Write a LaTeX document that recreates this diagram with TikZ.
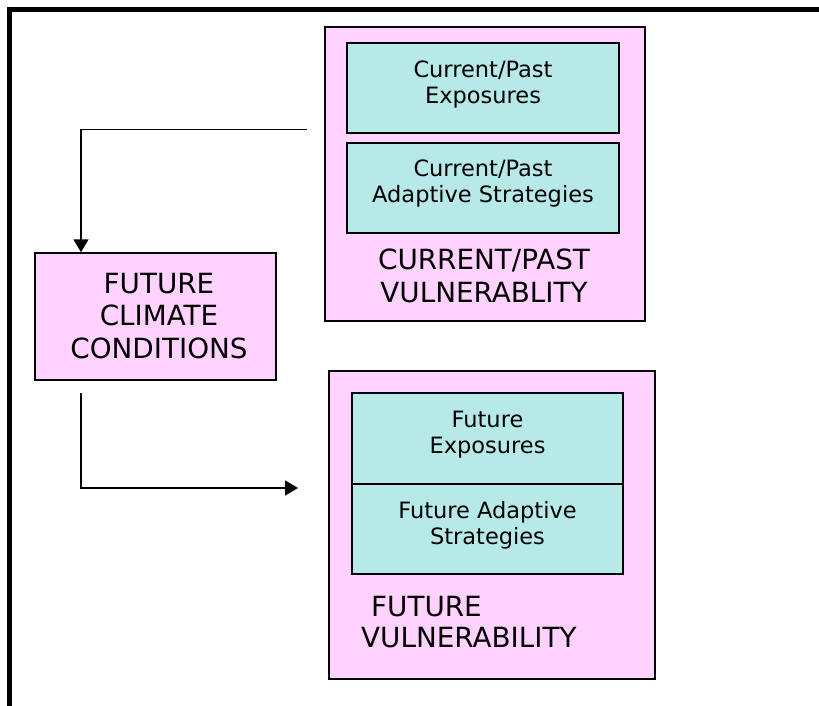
\documentclass[tikz,border=0pt]{standalone}
\usepackage{fontspec}
\setmainfont{DejaVu Sans}
\usetikzlibrary{arrows.meta}
\definecolor{pinkfill}{HTML}{FFD2FF}
\definecolor{cyanfill}{HTML}{B7E9E9}
\tikzset{
  outerbox/.style={draw=black, line width=1.5pt, fill=pinkfill, inner sep=0pt},
  innerbox/.style={draw=black, line width=1.3pt, fill=cyanfill, inner sep=0pt},
  smalltxt/.style={align=center, inner sep=0pt, font=\fontsize{22.5}{26}\selectfont},
  bigtxt/.style={align=center, inner sep=0pt, font=\fontsize{27.8}{32.5}\selectfont},
  conn/.style={draw=black, line width=1.5pt, -{Triangle[width=15pt,length=13pt]}},
}
\begin{document}
\begin{tikzpicture}[x=1pt,y=-1pt]
\useasboundingbox (0,0) rectangle (819,706);
% frame
\draw[line width=5pt, line join=miter] (9.5,720) -- (9.5,10) -- (830,10);
% current/past vulnerability
\node[outerbox, minimum width=320pt, minimum height=294pt] (cpv) at (485,174) {};
\node[innerbox, minimum width=272pt, minimum height=90pt] (cpe) at (483,88) {};
\node[innerbox, minimum width=272pt, minimum height=90pt] (cpa) at (483,188) {};
\node[smalltxt] (cpet) at (483,84) {Current/Past\\Exposures};
\node[smalltxt] (cpat) at (483,183) {Current/Past\\Adaptive Strategies};
\node[bigtxt] (cpvt) at (484,276) {CURRENT/PAST\\VULNERABLITY};
% future climate conditions
\node[outerbox, minimum width=241pt, minimum height=127pt] (fcc) at (155.5,316.5) {};
\node[bigtxt] (fcct) at (159,316) {FUTURE\\CLIMATE\\CONDITIONS};
% future vulnerability
\node[outerbox, minimum width=326pt, minimum height=308pt] (fv) at (492,525) {};
\node[innerbox, minimum width=271pt, minimum height=91pt] (fe) at (487.5,438.5) {};
\node[innerbox, minimum width=271pt, minimum height=90pt] (fa) at (487.5,529) {};
\node[smalltxt] (fet) at (487.5,435) {Future\\Exposures};
\node[smalltxt] (fat) at (487.5,525) {Future Adaptive\\Strategies};
\node[bigtxt, anchor=west] (fvt1) at (371,607) {FUTURE};
\node[bigtxt, anchor=west] (fvt2) at (361,638) {VULNERABILITY};
% connectors
\coordinate (a1s) at (307,129.5);
\coordinate (a2s) at (81,393);
\coordinate (a2e) at (298,488);
\draw[conn] (a1s) -| (fcc.north -| a2s);
\draw[conn] (a2s) |- (a2e);
\end{tikzpicture}
\end{document}
